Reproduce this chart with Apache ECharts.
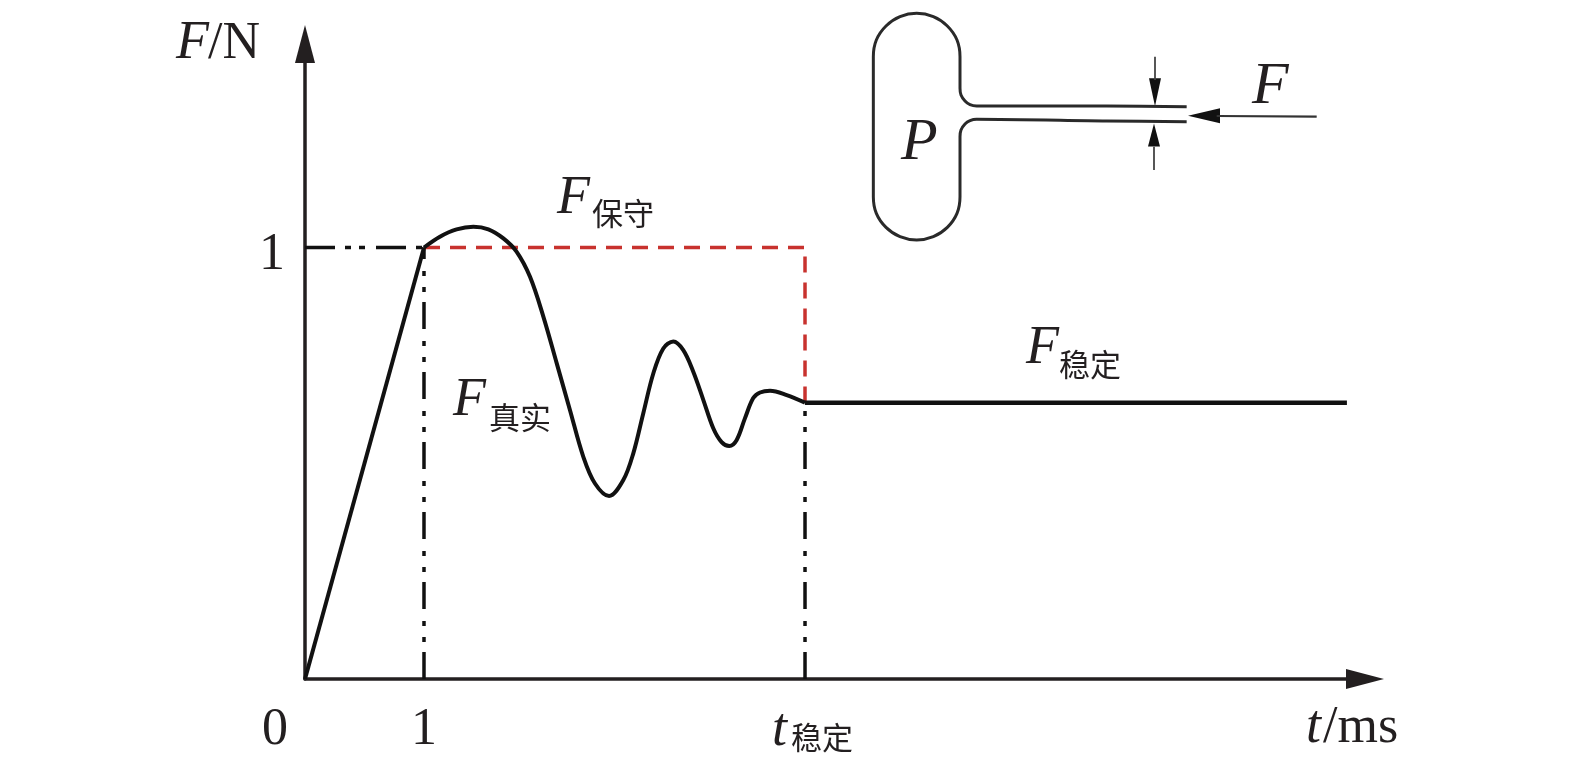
<!DOCTYPE html>
<html><head><meta charset="utf-8">
<script src="https://cdn.jsdelivr.net/npm/echarts@6/dist/echarts.min.js"></script>
<style>html,body{margin:0;padding:0;background:#fff}#c{width:1575px;height:768px}</style>
</head><body><div id="c"></div>
<script>
// Chart values (t in ms, F in N)
const tStable = 4.202;
const fStable = 0.6404;
const tEnd = 8.756;
const risingForce = [[0,0],[1,1]];
const realForce = [[1,1],[1.134,1.025],[1.274,1.042],[1.415,1.048],[1.541,1.042],[1.667,1.021],[1.779,0.99],[1.891,0.932],[2.003,0.84],[2.115,0.732],[2.227,0.623],[2.339,0.515],[2.437,0.453],[2.555,0.424],[2.675,0.461],[2.759,0.523],[2.843,0.616],[2.927,0.708],[3.011,0.766],[3.095,0.782],[3.179,0.762],[3.263,0.712],[3.347,0.647],[3.431,0.581],[3.501,0.549],[3.566,0.54],[3.628,0.554],[3.697,0.604],[3.767,0.651],[3.824,0.664],[3.908,0.668],[4.048,0.658],[tStable,fStable]];
const stableForce = [[tStable,fStable],[tEnd,fStable]];
const conservative = [[1,1],[tStable,1],[tStable,fStable]];
const guideH = [[0,1],[1,1]];
const guide1 = [[1,0],[1,1]];
const guideT = [[tStable,0],[tStable,fStable]];
const xTicks = [0,1,tStable];
const xTickLabels = ['{z|0}','{n|1}','{i|t}{s|稳定}'];
const yTicks = [1];
// Inset sketch, in units of a 1500x750 sketch box
const bulbOutline = [[1040,320],[800,318],[410,318],[390,314],[375,303],[363,285],[360,265],[360,170],[351,120],[322,78],[280,50],[230,40],[180,50],[138,78],[109,120],[100,170],[100,590],[109,640],[138,682],[180,710],[230,720],[280,710],[322,682],[351,640],[360,590],[360,410],[363,390],[375,372],[390,362],[410,358],[800,363],[1040,365]];
const arrowTop = [[945,170],[945,240]];
const arrowBottom = [[942,510],[942,440]];
const arrowForce = [[1430,350],[1130,348]];
const arrowHeads = [
  {value:[945,277],symbolSize:[12,28],symbolRotate:180},
  {value:[942,405],symbolSize:[12,23],symbolRotate:0},
  {value:[1092,347],symbolSize:[15,32],symbolRotate:90}
];
// Text: [text, x, centre y, kind]
const texts = [
  ['F',176,44,'i'],['/N',208,44,'n'],
  ['F',557,199,'i'],['保守',592,213,'s'],
  ['F',1026,349,'i'],['稳定',1059,364,'s'],
  ['F',453,401,'i'],['真实',489,417,'s'],
  ['t',1306,728,'i'],['/ms',1323,728,'n'],
  ['P',901,143,'b'],['F',1252,87,'b']
];

const ink = '#231f20', red = '#c8322e';
const serif = '"Liberation Serif","Times New Roman",serif';
const cjk = '"Noto Sans CJK SC",sans-serif';
const fonts = {
  i:'italic 54px '+serif,
  b:'italic 60px '+serif,
  n:'52px '+serif,
  s:'31px '+cjk
};
const chart = echarts.init(document.getElementById('c'),null,{renderer:'canvas'});
chart.setOption({
  animation:false,
  backgroundColor:'#fff',
  grid:[
    {left:305,top:44,right:210,bottom:89},
    {left:840,top:0,width:500,height:250}
  ],
  xAxis:[
    {type:'value',gridIndex:0,min:0,max:8.908,
     axisLine:{onZero:false,symbol:['none','triangle'],symbolSize:[20,38],lineStyle:{color:ink,width:3.5}},
     axisTick:{show:false},splitLine:{show:false},
     axisLabel:{customValues:xTicks,margin:25,hideOverlap:false,showMinLabel:true,showMaxLabel:true,
       formatter:function(v){return xTickLabels[xTicks.indexOf(v)];},
       rich:{
         z:{fontFamily:serif,fontSize:52,color:ink,padding:[0,60,0,0]},
         n:{fontFamily:serif,fontSize:52,color:ink},
         i:{fontFamily:serif,fontStyle:'italic',fontSize:54,color:ink,padding:[0,0,0,15]},
         s:{fontFamily:cjk,fontSize:31,color:ink,padding:[12,0,0,4]}
       }}},
    {type:'value',gridIndex:1,min:0,max:1500,show:false}
  ],
  yAxis:[
    {type:'value',gridIndex:0,min:0,max:1.4716,
     axisLine:{onZero:false,symbol:['none','triangle'],symbolSize:[20,38],lineStyle:{color:ink,width:3.5}},
     axisTick:{show:false},splitLine:{show:false},
     axisLabel:{customValues:yTicks,margin:20,fontFamily:serif,fontSize:52,color:ink,verticalAlign:'top',lineHeight:16,showMinLabel:true,showMaxLabel:true}},
    {type:'value',gridIndex:1,min:0,max:750,inverse:true,show:false}
  ],
  series:[
    {name:'guideH',type:'line',data:guideH,symbol:'none',silent:true,lineStyle:{color:'#111',width:3.5,type:[30,10,6,8,6,11]}},
    {name:'guide1',type:'line',data:guide1,symbol:'none',silent:true,lineStyle:{color:'#111',width:3.5,type:[27,10,5,11,5,12]}},
    {name:'guideT',type:'line',data:guideT,symbol:'none',silent:true,lineStyle:{color:'#111',width:3.5,type:[27,10,5,11,5,12]}},
    {name:'F保守',type:'line',data:conservative,symbol:'none',silent:true,lineStyle:{color:red,width:3.5,type:[16,10]}},
    {name:'F真实',type:'line',data:realForce,symbol:'none',smooth:0.35,silent:true,lineStyle:{color:'#111',width:4}},
    {name:'F真实上升',type:'line',data:risingForce,symbol:'none',silent:true,lineStyle:{color:'#111',width:4}},
    {name:'F稳定',type:'line',data:stableForce,symbol:'none',silent:true,lineStyle:{color:'#111',width:4.5}},
    {name:'bulb',type:'line',xAxisIndex:1,yAxisIndex:1,data:bulbOutline,symbol:'none',smooth:0.3,silent:true,lineStyle:{color:'#2a2a2a',width:3}},
    {name:'a1',type:'line',xAxisIndex:1,yAxisIndex:1,data:arrowTop,symbol:'none',silent:true,lineStyle:{color:'#444',width:1.8}},
    {name:'a2',type:'line',xAxisIndex:1,yAxisIndex:1,data:arrowBottom,symbol:'none',silent:true,lineStyle:{color:'#444',width:1.8}},
    {name:'a3',type:'line',xAxisIndex:1,yAxisIndex:1,data:arrowForce,symbol:'none',silent:true,lineStyle:{color:'#333',width:2.2}},
    {name:'heads',type:'scatter',xAxisIndex:1,yAxisIndex:1,data:arrowHeads,symbol:'triangle',silent:true,itemStyle:{color:'#111',opacity:1}}
  ],
  graphic:texts.map(function(t){
    return {type:'text',silent:true,x:t[1],y:t[2],
      style:{text:t[0],font:fonts[t[3]],fill:ink,verticalAlign:'middle'}};
  })
});
</script></body></html>
